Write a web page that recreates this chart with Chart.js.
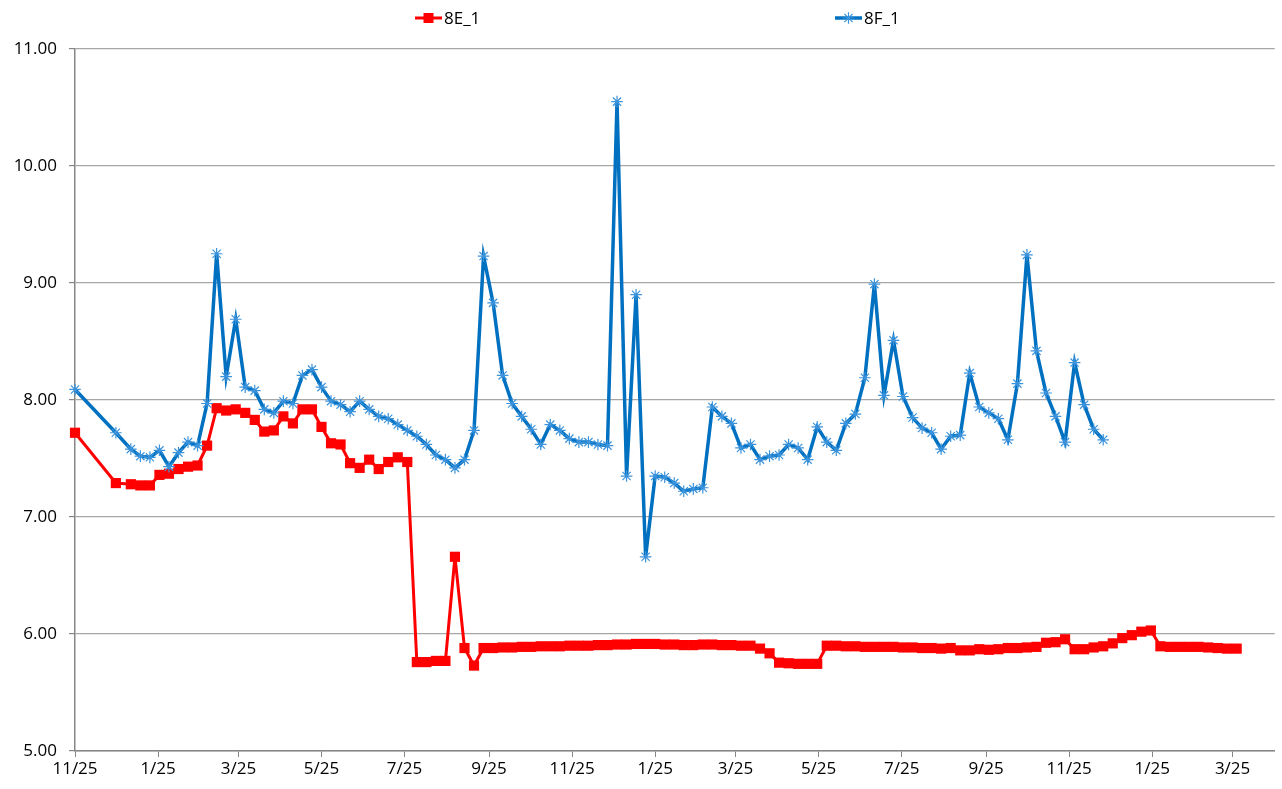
<!DOCTYPE html>
<html>
<head>
<meta charset="utf-8">
<script src="https://cdn.jsdelivr.net/npm/chart.js@4.4.0/dist/chart.umd.min.js"></script>
<style>
  html, body { margin: 0; padding: 0; background: #fff; }
  #wrap { position: relative; width: 1282px; height: 789px; }
</style>
</head>
<body>
<div id="wrap"><canvas id="chart" width="1282" height="789"></canvas></div>
<script>
const FONT = '"Open Sans", sans-serif';

// days counted from the first 11/25 tick
const tickDays   = [0, 61, 120, 181, 242, 304, 365, 426, 485, 546, 607, 669, 730, 791, 850];
const tickLabels = ['11/25', '1/25', '3/25', '5/25', '7/25', '9/25', '11/25', '1/25', '3/25', '5/25', '7/25', '9/25', '11/25', '1/25', '3/25'];

const days = [
  0, 30, 41, 48, 55, 62, 69, 76, 83, 90,
  97, 104, 111, 118, 125, 132, 139, 146, 153, 160,
  167, 174, 181, 188, 195, 202, 209, 216, 223, 230,
  237, 244, 251, 258, 265, 272, 279, 286, 293, 300,
  307, 314, 321, 328, 335, 342, 349, 356, 363, 370,
  377, 384, 391, 398, 405, 412, 419, 426, 433, 440,
  447, 454, 461, 468, 475, 482, 489, 496, 503, 510,
  517, 524, 531, 538, 545, 552, 559, 566, 573, 580,
  587, 594, 601, 608, 615, 622, 629, 636, 643, 650,
  657, 664, 671, 678, 685, 692, 699, 706, 713, 720,
  727, 734, 741, 748, 755, 762, 769, 776, 783, 790,
  797, 804, 811, 818, 825, 832, 839, 846, 853
];

const series8E = [
  7.72, 7.29, 7.28, 7.27, 7.27, 7.36, 7.37, 7.41, 7.43, 7.44,
  7.61, 7.93, 7.91, 7.92, 7.89, 7.83, 7.73, 7.74, 7.86, 7.80,
  7.92, 7.92, 7.77, 7.63, 7.62, 7.46, 7.42, 7.49, 7.41, 7.47,
  7.51, 7.47, 5.76, 5.76, 5.77, 5.77, 6.66, 5.88, 5.73, 5.88,
  5.88, 5.885, 5.885, 5.89, 5.89, 5.895, 5.895, 5.895, 5.90, 5.90,
  5.90, 5.905, 5.905, 5.91, 5.91, 5.915, 5.915, 5.915, 5.91, 5.91,
  5.905, 5.905, 5.91, 5.91, 5.905, 5.905, 5.90, 5.90, 5.875, 5.835,
  5.755, 5.75, 5.745, 5.745, 5.745, 5.90, 5.90, 5.895, 5.895, 5.89,
  5.89, 5.89, 5.89, 5.885, 5.885, 5.88, 5.88, 5.875, 5.88, 5.86,
  5.86, 5.87, 5.865, 5.87, 5.88, 5.88, 5.885, 5.89, 5.925, 5.93,
  5.955, 5.87, 5.87, 5.885, 5.895, 5.92, 5.965, 5.99, 6.02, 6.03,
  5.895, 5.89, 5.89, 5.89, 5.89, 5.885, 5.88, 5.875, 5.875
];

const series8F = [
  8.09, 7.72, 7.58, 7.52, 7.51, 7.57, 7.43, 7.55, 7.64, 7.61,
  7.97, 9.25, 8.20, 8.69, 8.11, 8.08, 7.92, 7.89, 7.99, 7.97,
  8.21, 8.26, 8.11, 7.99, 7.96, 7.90, 7.99, 7.92, 7.86, 7.84,
  7.79, 7.74, 7.69, 7.62, 7.53, 7.49, 7.42, 7.49, 7.74, 9.23,
  8.83, 8.21, 7.97, 7.86, 7.75, 7.62, 7.79, 7.74, 7.67, 7.64,
  7.64, 7.62, 7.61, 10.55, 7.35, 8.90, 6.66, 7.35, 7.34, 7.29,
  7.22, 7.24, 7.25, 7.94, 7.86, 7.80, 7.59, 7.62, 7.49, 7.52,
  7.53, 7.62, 7.59, 7.49, 7.77, 7.64, 7.57, 7.80, 7.88, 8.19,
  8.99, 8.04, 8.51, 8.03, 7.85, 7.76, 7.72, 7.58, 7.69, 7.70,
  8.23, 7.94, 7.89, 7.84, 7.66, 8.14, 9.24, 8.42, 8.06, 7.86,
  7.64, 8.32, 7.96, 7.75, 7.66
];

const RED  = '#ff0000';
const BLUE = '#0070c0';
const STAR = '#3b93dc';
const GRID = '#a6a6a6';
const AXIS = '#868686';

function points(values) {
  return values.map((v, i) => ({ x: days[i], y: v }));
}

// excel style legend: short line with marker, then the name
const lineLegend = {
  id: 'lineLegend',
  afterDraw(chart) {
    const ctx = chart.ctx;
    const y = 18;
    const items = [
      { x: 415, ds: chart.data.datasets[0] },
      { x: 835, ds: chart.data.datasets[1] }
    ];
    ctx.save();
    items.forEach(it => {
      const ds = it.ds;
      ctx.strokeStyle = ds.borderColor;
      ctx.lineWidth = ds.borderWidth;
      ctx.beginPath();
      ctx.moveTo(it.x, y);
      ctx.lineTo(it.x + 27, y);
      ctx.stroke();
      const cx = it.x + 13.5;
      if (ds.pointStyle === 'rect') {
        ctx.fillStyle = ds.pointBackgroundColor;
        ctx.fillRect(cx - 5, y - 5, 10, 10);
      } else {
        ctx.strokeStyle = ds.pointBorderColor;
        ctx.lineWidth = 1.2;
        const r = ds.pointRadius;
        const d = r * Math.SQRT1_2;
        ctx.beginPath();
        ctx.moveTo(cx, y - r); ctx.lineTo(cx, y + r);
        ctx.moveTo(cx - r, y); ctx.lineTo(cx + r, y);
        ctx.moveTo(cx - d, y - d); ctx.lineTo(cx + d, y + d);
        ctx.moveTo(cx - d, y + d); ctx.lineTo(cx + d, y - d);
        ctx.stroke();
      }
      ctx.fillStyle = '#000';
      ctx.font = '17px ' + FONT;
      ctx.textBaseline = 'middle';
      ctx.textAlign = 'left';
      ctx.fillText(ds.label, it.x + 29, y + 1);
    });
    ctx.restore();
  }
};

const ctx = document.getElementById('chart').getContext('2d');
new Chart(ctx, {
  type: 'line',
  data: {
    datasets: [
      {
        label: '8E_1',
        data: points(series8E),
        borderColor: RED,
        borderWidth: 3,
        pointStyle: 'rect',
        pointRadius: 7.2,
        pointBackgroundColor: RED,
        pointBorderColor: RED,
        pointBorderWidth: 0,
        tension: 0,
        clip: false,
        order: 1
      },
      {
        label: '8F_1',
        data: points(series8F),
        borderColor: BLUE,
        borderWidth: 3.5,
        pointStyle: 'star',
        pointRadius: 5.8,
        pointBackgroundColor: STAR,
        pointBorderColor: STAR,
        pointBorderWidth: 1.2,
        tension: 0,
        clip: false,
        order: 0
      }
    ]
  },
  options: {
    responsive: false,
    animation: false,
    layout: { padding: { top: 49, right: 5, left: 0, bottom: 0 } },
    plugins: {
      legend:  { display: false },
      tooltip: { enabled: false }
    },
    scales: {
      x: {
        type: 'linear',
        min: 0,
        max: 881,
        afterBuildTicks: scale => { scale.ticks = tickDays.map(v => ({ value: v })); },
        afterFit: scale => { scale.height = 38; },
        ticks: {
          autoSkip: false,
          maxRotation: 0,
          color: '#000',
          font: { family: FONT, size: 17 },
          padding: 2,
          callback: (v, i) => tickLabels[i]
        },
        grid: { drawOnChartArea: false, drawTicks: true, tickLength: 6, tickColor: AXIS },
        border: { color: AXIS, width: 1.5 }
      },
      y: {
        min: 5,
        max: 11,
        afterFit: scale => { scale.width = 75; },
        ticks: {
          stepSize: 1,
          color: '#000',
          font: { family: FONT, size: 17 },
          padding: 12,
          callback: v => v.toFixed(2)
        },
        grid: { color: GRID, lineWidth: 1.2, tickLength: 6, tickColor: AXIS },
        border: { color: AXIS, width: 1.5 }
      }
    }
  },
  plugins: [lineLegend]
});
</script>
</body>
</html>
